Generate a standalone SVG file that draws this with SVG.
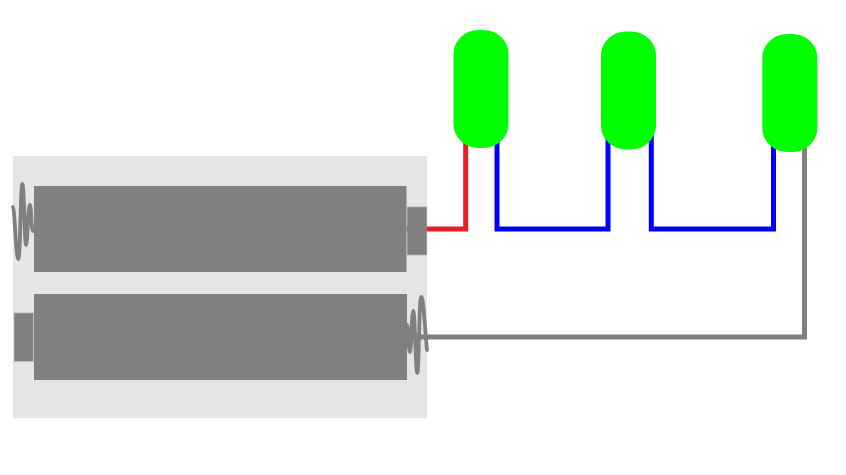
<svg xmlns="http://www.w3.org/2000/svg" width="846" height="475" viewBox="0 0 846 475">
<style>
.wire{fill:none;stroke-width:5;stroke-linejoin:miter}
.body{fill:#808080}
.term{fill:#808080;stroke:#808080;stroke-opacity:.5;stroke-width:1.4}
.spring{fill:none;stroke:#808080;stroke-width:3.8;stroke-linecap:round;stroke-linejoin:round}
.led{fill:#00ff00}
.holder{fill:#e5e5e5}
</style>
<rect width="846" height="475" fill="#fff"/>
<g id="holder"><rect class="holder" x="13" y="156" width="414" height="262"/></g>
<g id="connectors">
<path class="wire" stroke="#ed1c24" d="M406.800 229H465.700V130"/>
<path class="wire" stroke="#0000ff" d="M497 130V229H608V130"/>
<path class="wire" stroke="#0000ff" d="M651.300 130V229H773.500V130"/>
<path class="wire" stroke="#808080" d="M804.500 140V337H407"/>
</g>
<g id="battery1">
<rect class="body" x="34" y="186" width="372.500" height="86"/>
<rect class="term" x="407.500" y="207.300" width="19" height="47.400"/>
<path class="spring" d="M33 231C31 231 31.500 205 29.800 205C28 205 27.500 245 26 245C24.500 245 24.200 184 22.300 184C20.500 184 20.500 259 18.300 259C16 259 14.500 207 13 207"/>
</g>
<g id="battery2">
<rect class="body" x="34" y="294" width="373" height="86"/>
<rect class="term" x="14.500" y="313.300" width="18.500" height="47.800"/>
<path class="spring" d="M407 325C408.500 325 408.500 352 410 352C411.500 352 411.500 311 413.300 311C415 311 415.500 373 417.300 373C419 373 419 297 421.300 297C423.500 297 425.500 336 427 350"/>
</g>
<g id="led1"><rect class="led" x="453.500" y="30" width="55" height="118" rx="25" ry="24"/></g>
<g id="led2"><rect class="led" x="601" y="31.500" width="55" height="118" rx="25" ry="24"/></g>
<g id="led3"><rect class="led" x="762.300" y="34" width="55" height="118" rx="25" ry="24"/></g>
</svg>
